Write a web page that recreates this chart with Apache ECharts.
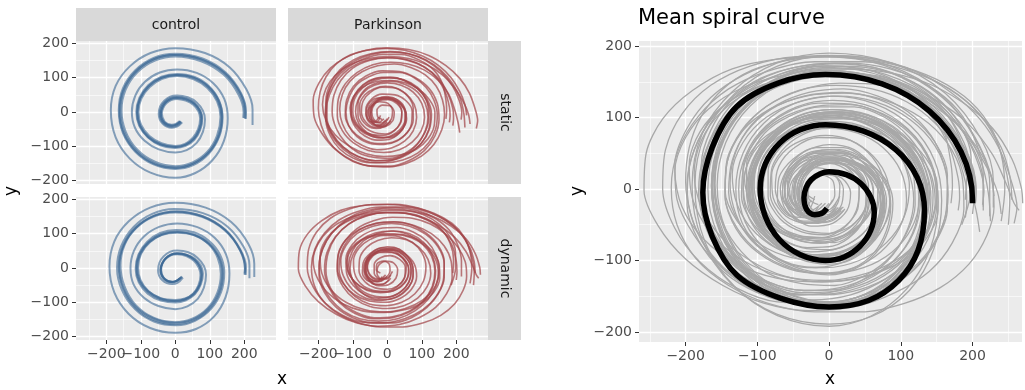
<!DOCTYPE html>
<html>
<head>
<meta charset="utf-8">
<script src="https://cdn.jsdelivr.net/npm/echarts@6/dist/echarts.min.js"></script>
<style>
html,body{margin:0;padding:0;background:#fff;}
#chart{width:1025px;height:390px;}
</style>
</head>
<body>
<div id="chart"></div>
<script>
// ---------- tick labels & categories ----------
const tickValues = [-200, -100, 0, 100, 200];
const facetXLabelsMain = [-200, 0, 200];   // drawn by bottom axis
const facetXLabelsAlt = [-100, 100];       // drawn by second axis (labels overlap in the original)
const minorX = [-250, -150, -50, 50, 150, 250];
const minorY = [-150, -50, 50, 150];
const groups = ['control', 'Parkinson'];
const conditions = ['static', 'dynamic'];
const titleText = 'Mean spiral curve';

// ---------- control / static traces ----------
const cs0 = [[15,-28],[3,-37],[-10,-40],[-33,-30],[-42,-5],[-38,13],[-28,28],[-13,38],[5,41],[32,36],[55,23],[70,3],[75,-20],[69,-51],[53,-78],[29,-96],[0,-102],[-42,-94],[-78,-72],[-102,-39],[-110,0],[-101,41],[-76,76],[-39,100],[5,108],[54,99],[96,72],[124,32],[134,-15],[124,-71],[95,-119],[51,-151],[0,-162],[-61,-149],[-113,-113],[-148,-59],[-160,5],[-148,67],[-113,119],[-61,154],[0,166],[77,152],[143,112],[187,53],[201,0],[200,-18]];
const cs1 = [[13,-26],[1,-35],[-11,-37],[-31,-28],[-39,-4],[-35,12],[-26,25],[-12,35],[5,38],[30,33],[52,21],[67,2],[72,-20],[66,-50],[51,-75],[28,-93],[0,-99],[-40,-91],[-75,-70],[-99,-38],[-107,1],[-98,40],[-74,73],[-38,97],[5,105],[52,96],[93,70],[121,31],[131,-14],[121,-69],[93,-116],[50,-147],[0,-158],[-59,-145],[-110,-110],[-144,-57],[-156,5],[-144,65],[-110,116],[-59,150],[0,162],[75,148],[140,109],[183,51],[198,0],[197,-17]];
const cs2 = [[17,-30],[4,-40],[-10,-43],[-35,-32],[-45,-6],[-41,14],[-30,30],[-14,41],[5,44],[34,39],[57,25],[73,3],[78,-21],[72,-53],[55,-81],[30,-99],[0,-105],[-44,-97],[-80,-74],[-105,-40],[-113,0],[-104,42],[-78,79],[-40,103],[5,111],[56,102],[99,74],[127,33],[137,-16],[127,-73],[97,-122],[52,-155],[0,-166],[-63,-153],[-116,-116],[-152,-61],[-164,5],[-152,69],[-116,122],[-63,158],[0,170],[79,156],[146,115],[191,54],[205,0],[204,-20]];
const cs3 = [[16,-27],[4,-36],[-9,-40],[-32,-31],[-42,-7],[-39,11],[-29,27],[-14,38],[4,42],[31,38],[55,25],[71,5],[77,-18],[71,-49],[56,-76],[31,-95],[2,-102],[-40,-96],[-77,-75],[-102,-42],[-111,-3],[-103,38],[-79,74],[-42,99],[2,108],[52,101],[95,75],[125,35],[136,-12],[127,-68],[98,-117],[54,-150],[3,-163],[-59,-152],[-112,-117],[-149,-63],[-162,1],[-151,63],[-117,116],[-65,153],[-4,166],[74,154],[141,116],[187,58],[203,4],[203,-20]];
const cs4 = [[20,-30],[6,-42],[-10,-46],[-37,-34],[-48,-6],[-44,16],[-32,33],[-15,45],[5,48],[36,43],[62,28],[80,4],[86,-22],[80,-58],[62,-90],[33,-111],[0,-118],[-48,-109],[-89,-84],[-117,-46],[-126,0],[-116,48],[-88,88],[-45,115],[5,124],[62,114],[110,84],[142,38],[152,-18],[141,-84],[108,-140],[58,-178],[0,-192],[-72,-177],[-132,-136],[-173,-74],[-187,5],[-173,76],[-132,133],[-72,172],[0,186],[86,172],[158,130],[206,66],[224,8],[224,-38]];

// ---------- control / dynamic traces ----------
const cd0 = [[20,-25],[6,-36],[-8,-40],[-31,-31],[-41,-6],[-38,12],[-28,28],[-12,39],[6,43],[33,38],[56,24],[71,3],[76,-20],[70,-49],[53,-74],[28,-89],[0,-93],[-42,-88],[-78,-68],[-103,-37],[-111,0],[-102,40],[-77,74],[-40,96],[4,103],[54,96],[97,71],[126,32],[136,-15],[126,-72],[96,-119],[52,-150],[0,-160],[-62,-148],[-115,-113],[-150,-59],[-163,3],[-150,65],[-115,116],[-62,150],[0,162],[77,149],[143,110],[188,52],[202,0],[201,-16]];
const cd1 = [[17,-28],[4,-38],[-10,-41],[-33,-31],[-43,-6],[-39,12],[-29,28],[-13,39],[5,42],[32,38],[56,24],[72,3],[77,-20],[71,-50],[54,-77],[29,-92],[0,-97],[-43,-91],[-80,-70],[-105,-38],[-113,0],[-104,41],[-78,76],[-40,99],[5,106],[55,98],[98,72],[127,32],[138,-15],[128,-73],[98,-121],[53,-153],[0,-164],[-63,-152],[-116,-116],[-151,-61],[-164,4],[-151,66],[-116,118],[-63,152],[0,165],[78,151],[144,112],[189,53],[205,0],[204,-20]];
const cd2 = [[13,-30],[1,-39],[-12,-41],[-34,-29],[-42,-4],[-37,14],[-26,28],[-11,38],[6,40],[32,35],[54,21],[68,1],[73,-21],[67,-51],[51,-76],[27,-91],[-2,-96],[-43,-89],[-78,-68],[-101,-35],[-108,2],[-99,42],[-73,76],[-36,98],[7,105],[56,95],[97,69],[123,29],[132,-17],[122,-72],[93,-118],[49,-148],[-2,-158],[-63,-145],[-114,-109],[-147,-54],[-159,8],[-146,70],[-110,120],[-58,154],[3,165],[80,151],[146,110],[188,51],[202,-2],[201,-20]];
const cd3 = [[18,-26],[5,-37],[-8,-41],[-32,-32],[-43,-8],[-40,10],[-30,26],[-14,38],[4,42],[32,39],[57,27],[74,7],[80,-17],[74,-48],[57,-76],[31,-94],[1,-101],[-42,-95],[-80,-75],[-106,-42],[-115,-3],[-107,39],[-82,76],[-44,102],[2,111],[54,104],[99,78],[130,38],[142,-12],[133,-70],[103,-120],[57,-154],[3,-167],[-62,-156],[-117,-120],[-155,-64],[-169,0],[-157,64],[-121,120],[-67,158],[-3,172],[80,160],[150,122],[198,62],[215,8],[215,-30]];
const cd4 = [[22,-28],[7,-43],[-9,-47],[-38,-35],[-50,-7],[-46,16],[-34,34],[-16,47],[5,51],[38,46],[64,30],[83,6],[89,-20],[83,-57],[65,-90],[35,-112],[0,-120],[-49,-111],[-91,-87],[-121,-48],[-130,0],[-120,50],[-91,92],[-47,120],[5,130],[64,119],[114,88],[147,40],[157,-16],[146,-84],[112,-142],[60,-178],[0,-189],[-73,-175],[-135,-134],[-177,-71],[-191,4],[-177,77],[-135,136],[-73,176],[0,190],[88,176],[162,134],[212,70],[229,12],[229,-26]];

// ---------- Parkinson / static traces ----------
const ps1 = [[-10,-20],[-25,-30],[-40,-20],[-45,0],[-35,25],[-12,38],[15,36],[40,20],[52,-5],[50,-35],[35,-60],[8,-75],[-25,-72],[-58,-60],[-82,-35],[-92,0],[-85,35],[-62,68],[-28,85],[12,90],[52,80],[88,58],[110,25],[118,-15],[110,-55],[88,-92],[52,-120],[8,-135],[-40,-132],[-85,-118],[-122,-88],[-148,-48],[-160,0],[-155,48],[-135,92],[-100,128],[-52,150],[0,158],[55,152],[105,132],[148,98],[175,55],[190,10],[192,-20],[190,-40]];
const ps2 = [[5,-15],[-10,-35],[-35,-40],[-58,-22],[-62,8],[-45,38],[-15,52],[22,50],[55,32],[72,2],[70,-35],[50,-68],[15,-88],[-28,-92],[-70,-80],[-105,-50],[-122,-10],[-118,35],[-98,75],[-62,105],[-15,120],[35,118],[82,100],[122,68],[145,25],[150,-22],[138,-70],[108,-112],[62,-142],[10,-158],[-45,-158],[-100,-142],[-150,-110],[-188,-65],[-212,-15],[-215,35],[-198,85],[-165,128],[-118,160],[-62,180],[0,187],[62,182],[120,165],[170,135],[210,98],[238,55],[255,8],[262,-25],[258,-48]];
const ps3 = [[-20,-10],[-30,-30],[-50,-28],[-62,-5],[-55,22],[-32,40],[0,42],[28,28],[42,0],[38,-30],[20,-55],[-10,-68],[-45,-66],[-78,-50],[-100,-20],[-105,15],[-95,50],[-70,80],[-35,98],[8,102],[50,92],[88,68],[115,32],[125,-10],[120,-52],[98,-92],[62,-122],[15,-140],[-35,-142],[-85,-130],[-130,-102],[-162,-62],[-178,-15],[-178,35],[-165,82],[-138,122],[-98,152],[-48,170],[8,176],[62,170],[112,150],[155,118],[188,78],[208,35],[216,-2],[214,-22]];
const ps4 = [[0,-30],[-18,-42],[-40,-35],[-52,-12],[-48,15],[-28,35],[0,40],[30,30],[50,8],[56,-20],[45,-48],[20,-68],[-12,-76],[-48,-70],[-80,-52],[-102,-22],[-108,12],[-98,45],[-72,72],[-35,88],[8,92],[52,85],[92,66],[122,36],[138,0],[136,-40],[118,-78],[85,-108],[40,-125],[-10,-130],[-62,-122],[-110,-100],[-150,-68],[-178,-25],[-188,22],[-178,68],[-150,108],[-108,138],[-55,156],[5,162],[62,156],[115,138],[160,108],[195,70],[220,30],[235,-5],[240,-35]];
const ps5 = [[-15,-22],[-28,-14],[-30,5],[-15,20],[8,18],[20,0],[16,-25],[-5,-42],[-35,-45],[-62,-30],[-75,0],[-70,32],[-48,58],[-15,72],[22,70],[55,52],[78,22],[85,-15],[75,-55],[50,-85],[12,-105],[-30,-110],[-72,-98],[-108,-72],[-130,-35],[-138,8],[-130,52],[-108,90],[-72,118],[-28,135],[20,140],[68,130],[110,108],[142,75],[160,35],[166,-8],[158,-52],[135,-95],[100,-128],[55,-150],[5,-160],[-48,-158],[-98,-145],[-140,-118],[-172,-82],[-192,-38],[-200,10],[-195,58],[-178,102],[-148,140],[-108,166],[-58,180],[-5,185],[50,180],[102,163],[148,136],[185,100],[210,60],[225,22],[230,-10]];
const ps6 = [[10,-25],[-5,-40],[-28,-42],[-45,-25],[-48,2],[-35,28],[-10,42],[18,40],[42,22],[55,-5],[52,-35],[35,-62],[5,-80],[-30,-82],[-65,-70],[-92,-45],[-105,-10],[-102,28],[-85,62],[-55,88],[-15,100],[28,98],[68,82],[100,55],[118,18],[120,-22],[108,-62],[82,-100],[45,-128],[0,-145],[-50,-148],[-98,-135],[-138,-108],[-165,-70],[-178,-25],[-175,25],[-158,72],[-128,112],[-88,140],[-38,155],[15,158],[65,150],[110,130],[145,98],[168,58],[180,15],[182,-12],[180,-30]];
const ps7 = [[0,-20],[-15,-32],[-35,-30],[-48,-10],[-45,15],[-25,32],[2,36],[28,24],[42,0],[40,-28],[22,-52],[-6,-64],[-38,-60],[-68,-42],[-85,-10],[-85,25],[-68,58],[-38,78],[0,85],[40,78],[75,58],[100,25],[108,-15],[98,-55],[72,-88],[35,-110],[-10,-118],[-55,-112],[-98,-90],[-130,-55],[-145,-10],[-142,38],[-122,82],[-88,115],[-42,138],[10,145],[60,140],[108,122],[148,92],[178,52],[195,8],[205,-30],[210,-60]];
const ps8 = [[-5,-25],[-22,-38],[-45,-32],[-58,-10],[-52,18],[-30,38],[0,45],[30,35],[50,12],[52,-20],[38,-50],[10,-70],[-25,-75],[-60,-62],[-88,-35],[-100,0],[-95,38],[-72,70],[-38,92],[5,100],[48,94],[88,72],[115,38],[128,-5],[122,-50],[100,-90],[62,-120],[15,-138],[-35,-142],[-85,-130],[-128,-102],[-160,-62],[-175,-15],[-175,35],[-160,82],[-132,122],[-92,150],[-45,168],[8,175],[62,170],[112,152],[155,122],[190,82],[212,38],[222,-5],[225,-45]];
const ps9 = [[-25,-15],[-35,-28],[-50,-20],[-55,0],[-45,20],[-22,30],[2,25],[15,5],[12,-20],[-5,-40],[-32,-48],[-60,-38],[-78,-12],[-80,20],[-65,50],[-38,68],[-5,75],[30,68],[60,45],[75,12],[75,-25],[58,-60],[28,-85],[-10,-95],[-50,-92],[-88,-72],[-112,-40],[-120,0],[-112,40],[-90,78],[-55,102],[-12,115],[35,115],[78,100],[112,72],[135,35],[145,-8],[140,-50],[120,-90],[88,-120],[45,-140],[-5,-148],[-58,-145],[-105,-125],[-145,-92],[-170,-50],[-180,0],[-172,50],[-150,95],[-115,130],[-68,155],[-15,168],[40,168],[92,152],[135,122],[160,82],[170,35],[172,5],[170,-20]];

// ---------- Parkinson / dynamic traces ----------
const pd1 = [[-5,-20],[-22,-32],[-45,-25],[-58,0],[-48,28],[-20,45],[15,45],[45,28],[62,0],[58,-32],[35,-58],[0,-70],[-40,-68],[-80,-52],[-108,-22],[-118,15],[-105,52],[-75,80],[-30,95],[20,98],[70,88],[112,62],[140,25],[148,-18],[135,-60],[100,-95],[52,-118],[-5,-128],[-65,-122],[-120,-100],[-165,-62],[-190,-15],[-195,35],[-180,80],[-145,118],[-95,145],[-35,160],[30,162],[92,150],[148,125],[195,90],[228,48],[248,5],[258,-20],[265,-30]];
const pd2 = [[10,-30],[-8,-45],[-35,-48],[-60,-30],[-68,0],[-55,32],[-25,52],[15,55],[52,40],[78,12],[85,-25],[70,-62],[38,-88],[-5,-100],[-52,-96],[-95,-78],[-128,-45],[-145,-2],[-142,42],[-120,82],[-82,112],[-32,130],[22,134],[78,124],[128,100],[165,64],[185,20],[188,-28],[172,-75],[140,-115],[92,-145],[35,-165],[-28,-170],[-90,-160],[-148,-135],[-200,-98],[-238,-52],[-258,-2],[-255,50],[-232,98],[-190,138],[-135,168],[-70,182],[0,185],[70,178],[135,160],[188,130],[222,92],[240,48],[245,0],[240,-45]];
const pd3 = [[-20,-15],[-32,-5],[-30,12],[-12,20],[5,12],[8,-8],[-5,-28],[-30,-35],[-52,-20],[-58,8],[-45,35],[-18,50],[15,50],[42,32],[55,5],[50,-28],[28,-55],[-5,-68],[-42,-65],[-75,-48],[-95,-15],[-98,22],[-82,58],[-52,82],[-12,95],[32,92],[72,75],[100,45],[112,5],[105,-38],[80,-75],[42,-100],[-5,-110],[-52,-105],[-95,-82],[-125,-48],[-140,-5],[-135,40],[-115,80],[-80,112],[-35,130],[18,135],[70,125],[115,100],[148,65],[165,20],[165,-28],[148,-75],[115,-115],[70,-145],[15,-160],[-45,-160],[-100,-145],[-148,-115],[-182,-72],[-198,-22],[-195,30],[-176,80],[-142,122],[-95,155],[-38,172],[25,176],[85,168],[138,145],[180,110],[205,65],[215,20],[215,-25]];
const pd4 = [[15,-10],[2,-28],[-20,-32],[-38,-15],[-38,10],[-20,30],[8,36],[36,25],[52,2],[50,-28],[30,-52],[0,-62],[-35,-58],[-65,-40],[-82,-8],[-80,28],[-60,60],[-28,80],[12,88],[55,82],[92,60],[118,25],[126,-15],[115,-55],[88,-88],[48,-110],[0,-118],[-50,-112],[-95,-90],[-128,-55],[-145,-10],[-142,38],[-122,80],[-88,115],[-40,138],[15,148],[72,145],[125,128],[170,98],[205,60],[226,18],[230,-25],[220,-65],[195,-105],[155,-138],[105,-160],[45,-172],[-20,-172],[-85,-160],[-140,-135],[-185,-98],[-212,-50],[-220,2],[-210,55],[-182,102],[-140,140],[-85,165],[-20,178],[48,178],[112,165],[168,140],[212,102],[240,58],[252,18],[255,-15]];
const pd5 = [[-8,-28],[-25,-40],[-48,-32],[-62,-8],[-58,22],[-35,45],[-2,55],[32,48],[58,25],[70,-8],[62,-42],[38,-70],[2,-85],[-38,-82],[-75,-65],[-102,-32],[-112,8],[-102,48],[-75,82],[-35,102],[12,108],[60,98],[100,72],[128,35],[138,-10],[130,-55],[105,-95],[65,-125],[15,-142],[-38,-145],[-90,-130],[-135,-100],[-165,-58],[-178,-8],[-172,42],[-150,90],[-112,128],[-60,152],[0,162],[60,158],[115,140],[160,108],[188,65],[200,20],[202,-10],[200,-35]];
const pd6 = [[5,-35],[-15,-48],[-40,-45],[-58,-25],[-62,5],[-45,35],[-15,52],[20,52],[50,35],[68,5],[66,-30],[48,-62],[15,-82],[-25,-88],[-65,-78],[-98,-52],[-118,-15],[-120,28],[-102,68],[-68,98],[-22,115],[28,118],[75,105],[115,78],[140,40],[150,-5],[142,-50],[118,-92],[80,-125],[30,-148],[-25,-155],[-80,-148],[-128,-125],[-165,-90],[-190,-45],[-198,5],[-188,55],[-162,100],[-122,135],[-70,160],[-10,172],[50,170],[105,155],[150,128],[182,90],[198,45],[198,0],[185,-50]];
const pd7 = [[0,-25],[-20,-38],[-45,-35],[-65,-12],[-62,18],[-40,40],[-5,48],[30,40],[55,18],[62,-12],[50,-42],[20,-65],[-20,-72],[-60,-65],[-95,-40],[-115,-5],[-115,35],[-95,68],[-58,90],[-10,100],[42,98],[90,82],[128,52],[150,12],[152,-30],[135,-70],[100,-102],[50,-122],[-10,-130],[-72,-125],[-128,-105],[-175,-70],[-205,-25],[-215,25],[-200,72],[-168,112],[-120,142],[-60,160],[5,168],[70,165],[132,150],[185,122],[228,85],[255,42],[268,2],[270,-20]];
const pd8 = [[10,-20],[0,-32],[-18,-32],[-30,-15],[-25,8],[-5,20],[18,15],[30,-5],[25,-30],[5,-48],[-25,-52],[-52,-35],[-65,-5],[-58,28],[-35,52],[0,62],[35,55],[62,30],[75,-5],[70,-42],[48,-72],[12,-90],[-30,-92],[-70,-75],[-98,-42],[-108,0],[-98,42],[-70,78],[-30,100],[18,108],[65,100],[105,75],[130,38],[140,-8],[132,-55],[105,-98],[65,-128],[15,-145],[-40,-148],[-95,-132],[-140,-100],[-170,-55],[-182,-5],[-175,45],[-150,92],[-112,128],[-62,152],[-5,162],[55,160],[110,145],[155,115],[182,72],[192,25],[190,-15]];
const pd9 = [[-15,-25],[-30,-40],[-55,-38],[-72,-15],[-70,15],[-50,42],[-18,58],[20,58],[52,40],[72,10],[75,-25],[58,-60],[25,-85],[-18,-95],[-62,-88],[-102,-62],[-128,-22],[-135,22],[-120,65],[-88,100],[-42,122],[12,130],[65,122],[112,98],[148,60],[165,12],[162,-38],[140,-85],[102,-122],[50,-148],[-10,-160],[-72,-158],[-130,-138],[-180,-102],[-215,-55],[-232,0],[-228,55],[-205,105],[-165,145],[-110,172],[-45,185],[22,186],[90,175],[150,150],[200,115],[232,70],[248,20],[252,-15],[250,-50]];

// ---------- mean spiral ----------
const meanSpiral = [[-3,-27],[-10,-34],[-20,-36],[-31,-29],[-35,-12],[-32,2],[-25,13],[-13,21],[0,24],[24,20],[44,8],[58,-11],[63,-32],[58,-58],[43,-80],[21,-95],[-5,-100],[-40,-92],[-69,-71],[-89,-38],[-96,0],[-89,35],[-69,64],[-40,83],[-5,90],[48,81],[93,55],[123,16],[133,-30],[124,-86],[97,-128],[55,-156],[0,-165],[-67,-153],[-128,-121],[-163,-66],[-176,-5],[-163,58],[-129,115],[-71,148],[-5,160],[74,147],[140,109],[184,52],[200,-15],[200,-20]];

const controlStatic = [cs0, cs1, cs2, cs3, cs4];
const controlDynamic = [cd0, cd1, cd2, cd3, cd4];
const parkStatic = [ps1, ps2, ps3, ps4, ps5, ps6, ps7, ps8, ps9];
const parkDynamic = [pd1, pd2, pd3, pd4, pd5, pd6, pd7, pd8, pd9];

// ---------- styling ----------
const FONT = 'DejaVu Sans';
const BLUE = '#3A6894';
const RED = '#A2454A';
const GREY = '#A8A8A8';
const fmt = v => (v < 0 ? '\u2212' + Math.abs(v) : String(v));

const facetX = [-288, 292], facetY = [-210, 207];
const rightX = [-265, 269], rightY = [-214, 207];

const panels = [
  { grid: {left: 76, top: 41, width: 200, height: 143}, showX: false, showY: true, traces: controlStatic, color: BLUE, xr: facetX, yr: facetY, smooth: 0.34, w: 2, op: 0.6, xMain: tickValues, xAlt: null },
  { grid: {left: 288, top: 41, width: 200, height: 143}, showX: false, showY: false, traces: parkStatic, color: RED, xr: facetX, yr: facetY, smooth: 0.3, w: 1.6, op: 0.72, xMain: tickValues, xAlt: null },
  { grid: {left: 76, top: 197, width: 200, height: 143}, showX: true, showY: true, traces: controlDynamic, color: BLUE, xr: facetX, yr: facetY, smooth: 0.34, w: 2, op: 0.6, xMain: facetXLabelsMain, xAlt: facetXLabelsAlt },
  { grid: {left: 288, top: 197, width: 200, height: 143}, showX: true, showY: false, traces: parkDynamic, color: RED, xr: facetX, yr: facetY, smooth: 0.3, w: 1.6, op: 0.72, xMain: facetXLabelsMain, xAlt: facetXLabelsAlt },
  { grid: {left: 639, top: 41, width: 383, height: 301}, showX: true, showY: true, traces: [], color: GREY, xr: rightX, yr: rightY, smooth: 0.34, w: 1.3, op: 1, xMain: tickValues, xAlt: null }
];

const grids = [], xAxes = [], yAxes = [], series = [];
const labelBase = {color: '#4D4D4D', fontSize: 14, fontFamily: FONT, formatter: fmt,
  interval: 0, hideOverlap: false, showMinLabel: true, showMaxLabel: true, margin: 7};
panels.forEach((p, i) => {
  grids.push(Object.assign({show: true, backgroundColor: '#EBEBEB', borderWidth: 0, containLabel: false}, p.grid));
  xAxes.push({
    gridIndex: i, type: 'value', min: p.xr[0], max: p.xr[1], position: 'bottom',
    axisLine: {show: false, onZero: false},
    axisTick: {show: p.showX, length: 4, lineStyle: {color: '#333333', width: 1}, customValues: tickValues},
    axisLabel: Object.assign({show: p.showX, customValues: p.xMain}, labelBase),
    splitLine: {show: true, lineStyle: {color: '#FFFFFF', width: 1.3}}
  });
  yAxes.push({
    gridIndex: i, type: 'value', min: p.yr[0], max: p.yr[1], position: 'left',
    axisLine: {show: false, onZero: false},
    axisTick: {show: p.showY, length: 4, lineStyle: {color: '#333333', width: 1}, customValues: tickValues},
    axisLabel: Object.assign({show: p.showY, customValues: tickValues}, labelBase),
    splitLine: {show: true, lineStyle: {color: '#FFFFFF', width: 1.3}}
  });
});
// second axes: minor grid lines (+ the remaining x labels, moved to the bottom edge)
panels.forEach((p, i) => {
  const alt = !!(p.showX && p.xAlt);
  xAxes.push({
    gridIndex: i, type: 'value', min: p.xr[0], max: p.xr[1], position: 'top',
    offset: alt ? -p.grid.height : 0,
    axisLine: {show: false, onZero: false}, axisTick: {show: false, customValues: minorX},
    axisLabel: alt ? Object.assign({show: true, inside: true, customValues: p.xAlt}, labelBase)
                   : {show: false, customValues: minorX},
    splitLine: {show: true, lineStyle: {color: '#FFFFFF', width: 0.6}}
  });
  yAxes.push({
    gridIndex: i, type: 'value', min: p.yr[0], max: p.yr[1], position: 'right',
    axisLine: {show: false, onZero: false}, axisTick: {show: false, customValues: minorY},
    axisLabel: {show: false, customValues: minorY},
    splitLine: {show: true, lineStyle: {color: '#FFFFFF', width: 0.6}}
  });
});

function addLine(data, gi, color, width, opacity, smooth, z) {
  series.push({
    type: 'line', xAxisIndex: gi, yAxisIndex: gi, data: data,
    symbol: 'none', showSymbol: false, smooth: smooth, silent: true, animation: false,
    lineStyle: {color: color, width: width, opacity: opacity}, z: z, clip: true
  });
}
panels.slice(0, 4).forEach((p, i) => {
  p.traces.forEach(t => addLine(t, i, p.color, p.w, p.op, p.smooth, 2));
});
[controlStatic, parkStatic, controlDynamic, parkDynamic].forEach((grp, gi) => {
  grp.forEach(t => addLine(t, 4, GREY, panels[4].w, 1, panels[gi].smooth, 2));
});
addLine(meanSpiral, 4, '#000000', 5.5, 1, 0.34, 3);

// strips and axis titles
const stripFill = '#D9D9D9';
const txt = (text, x, y, size, color, rot) => ({
  type: 'text', x: x, y: y, rotation: rot || 0, silent: true, z: 10,
  style: {text: text, x: 0, y: 0, align: 'center', verticalAlign: 'middle', fontSize: size, fontFamily: FONT, fill: color}
});
const graphics = [
  {type: 'rect', shape: {x: 76, y: 8, width: 200, height: 33}, style: {fill: stripFill}, silent: true},
  {type: 'rect', shape: {x: 288, y: 8, width: 200, height: 33}, style: {fill: stripFill}, silent: true},
  {type: 'rect', shape: {x: 488, y: 41, width: 33, height: 143}, style: {fill: stripFill}, silent: true},
  {type: 'rect', shape: {x: 488, y: 197, width: 33, height: 143}, style: {fill: stripFill}, silent: true},
  txt(groups[0], 176, 25, 14, '#1A1A1A'),
  txt(groups[1], 388, 25, 14, '#1A1A1A'),
  txt(conditions[0], 505, 112.5, 14, '#1A1A1A', -Math.PI / 2),
  txt(conditions[1], 505, 268.5, 14, '#1A1A1A', -Math.PI / 2),
  txt('x', 282, 380, 17, '#000000'),
  txt('y', 12, 191, 17, '#000000', Math.PI / 2),
  txt('x', 830, 380, 17, '#000000'),
  txt('y', 578, 191, 17, '#000000', Math.PI / 2)
];

const chart = echarts.init(document.getElementById('chart'), null, {renderer: 'canvas'});
chart.setOption({
  animation: false,
  backgroundColor: '#FFFFFF',
  title: {text: titleText, left: 638, top: 8, padding: 0, textStyle: {fontSize: 21, fontWeight: 'normal', color: '#000000', fontFamily: FONT}},
  grid: grids, xAxis: xAxes, yAxis: yAxes, series: series, graphic: graphics
});
</script>
</body>
</html>
